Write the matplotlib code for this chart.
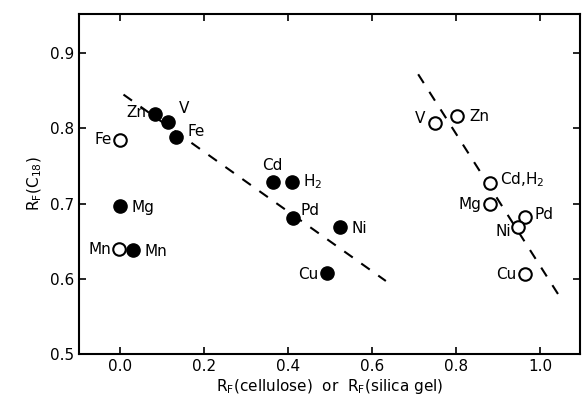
import matplotlib
matplotlib.use("Agg")
import matplotlib.pyplot as plt

# Cellulose (filled)
cel_labels = ["Zn", "V", "Fe", "Mg", "Mn", "Cd", "H$_2$", "Pd", "Ni", "Cu"]
cel_x = [0.083, 0.114, 0.133, 0.0, 0.031, 0.365, 0.41, 0.412, 0.524, 0.493]
cel_y = [0.819, 0.808, 0.789, 0.697, 0.638, 0.729, 0.729, 0.681, 0.669, 0.608]

# Open circles (silica gel)
sil_labels = ["Fe", "Mn", "V", "Zn", "Cd,H$_2$", "Mg", "Pd", "Ni", "Cu"]
sil_x = [0.0, -0.002, 0.75, 0.802, 0.881, 0.88, 0.964, 0.948, 0.964]
sil_y = [0.785, 0.639, 0.807, 0.816, 0.728, 0.699, 0.682, 0.669, 0.606]

# dashed regression lines
line1_x = [0.008, 0.633]
line1_y = [0.845, 0.597]
line2_x = [0.71, 1.045]
line2_y = [0.872, 0.578]

xticks = [0.0, 0.2, 0.4, 0.6, 0.8, 1.0]
yticks = [0.5, 0.6, 0.7, 0.8, 0.9]

fig = plt.figure(figsize=(5.83, 4.04), dpi=100)
ax = fig.add_axes([0.1355, 0.124, 0.859, 0.841])

ax.plot(line1_x, line1_y, ls=(0, (5, 5)), color="black", lw=1.5)
ax.plot(line2_x, line2_y, ls=(0, (5, 5)), color="black", lw=1.5)

ax.plot(cel_x, cel_y, "o", ms=9.5, color="black", mfc="black", zorder=3)
ax.plot(sil_x, sil_y, "o", ms=9, color="black", mfc="white", mew=1.5, zorder=3)

fs = 11
# filled labels (offsets in points)
cel_off = [(-6, 1, "right"), (8, 10, "left"), (8, 4, "left"), (8, -1, "left"),
           (8, -1, "left"), (-8, 12, "left"), (8, 0, "left"), (5, 5, "left"),
           (8, -1, "left"), (-6, -1, "right")]
for lab, x, y, (dx, dy, ha) in zip(cel_labels, cel_x, cel_y, cel_off):
    ax.annotate(lab, (x, y), xytext=(dx, dy), textcoords="offset points",
                ha=ha, va="center", fontsize=fs)

sil_off = [(-6, 0, "right"), (-6, 0, "right"), (-7, 3, "right"), (9, 0, "left"),
           (7, 2, "left"), (-6, 0, "right"), (7, 2, "left"), (-5, -3, "right"),
           (-6, 0, "right")]
for lab, x, y, (dx, dy, ha) in zip(sil_labels, sil_x, sil_y, sil_off):
    ax.annotate(lab, (x, y), xytext=(dx, dy), textcoords="offset points",
                ha=ha, va="center", fontsize=fs)

ax.set_xlim(-0.098, 1.095)
ax.set_ylim(0.5, 0.952)
ax.set_xticks(xticks)
ax.set_xticklabels([f"{t:.1f}" for t in xticks])
ax.set_yticks(yticks)
ax.set_yticklabels([f"{t:.1f}" for t in yticks])
ax.tick_params(direction="in", top=True, right=True, length=5, width=1.2,
               labelsize=11)
for s in ax.spines.values():
    s.set_linewidth(1.5)

ax.set_xlabel("R$_\\mathrm{F}$(cellulose)  or  R$_\\mathrm{F}$(silica gel)", fontsize=11, labelpad=2)
ax.set_ylabel("R$_\\mathrm{F}$(C$_{18}$)", fontsize=11, labelpad=4)

fig.savefig("out.png", dpi=100)
